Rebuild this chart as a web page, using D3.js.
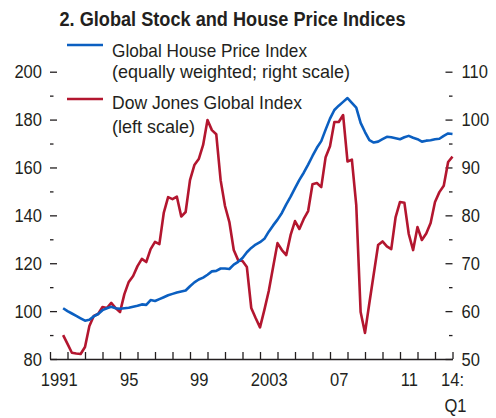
<!DOCTYPE html>
<html>
<head>
<meta charset="utf-8">
<script src="https://cdn.jsdelivr.net/npm/d3@7"></script>
<style>
  body { margin: 0; background: #fff; }
  svg { display: block; font-family: "Liberation Sans", Arial, sans-serif; }
</style>
</head>
<body>
<svg id="chart"></svg>
<script>
// chart size
const width = 496;
const height = 418;

// quarterly data, 1991:Q4 to 2014:Q1
const startYear = 1991;
const startQuarter = 4;

// Dow Jones Global Index (left scale)
const dowJones = [
  90.0, 86.3, 82.6, 82.3, 82.1, 85.0, 93.8, 98.0, 98.8, 101.7,
  101.3, 103.4, 101.3, 99.6, 107.1, 112.2, 114.7, 118.8, 121.8, 120.5,
  125.9, 128.9, 128.0, 141.0, 147.6, 146.8, 147.8, 139.5, 141.4, 154.7,
  161.0, 163.5, 169.4, 179.8, 175.6, 173.9, 154.7, 143.9, 137.2, 125.5,
  121.3, 120.9, 118.4, 101.3, 97.1, 93.2, 100.5, 108.4, 118.4, 128.4,
  125.5, 123.4, 131.8, 137.6, 134.3, 138.5, 141.8, 153.0, 153.5, 151.8,
  164.3, 168.9, 179.0, 179.0, 181.9, 162.5, 163.3, 144.3, 99.6, 90.9,
  103.4, 115.5, 127.6, 129.1, 127.0, 125.9, 139.3, 145.6, 145.3, 132.2,
  125.5, 135.1, 129.7, 132.4, 136.8, 145.6, 149.7, 152.4, 162.3, 164.5
];

// Global House Price Index, equally weighted (right scale)
const housePrice = [
  60.6, 60.0, 59.5, 59.0, 58.5, 58.0, 58.2, 58.9, 59.4, 60.2,
  60.6, 60.9, 60.6, 60.5, 60.6, 60.7, 60.9, 61.1, 61.4, 61.3,
  62.3, 62.1, 62.5, 62.9, 63.3, 63.6, 63.9, 64.1, 64.3, 65.2,
  66.0, 66.6, 67.0, 67.6, 68.3, 68.4, 68.9, 68.9, 68.8, 69.7,
  70.3, 71.1, 72.3, 73.2, 73.9, 74.4, 75.1, 76.6, 77.9, 79.1,
  80.5, 82.3, 83.9, 85.7, 87.4, 88.9, 90.6, 92.4, 94.1, 95.5,
  97.9, 100.2, 102.0, 102.9, 103.7, 104.5, 103.5, 102.5, 99.3, 97.4,
  95.7, 95.2, 95.4, 95.9, 96.4, 96.3, 96.1, 95.9, 96.3, 96.6,
  96.2, 95.9, 95.4, 95.6, 95.7, 95.9, 96.0, 96.6, 97.1, 97.0
];

// ticks and labels
const leftTicks = [80, 100, 120, 140, 160, 180, 200];
const leftMinor = [90, 110, 130, 150, 170, 190];
const rightTicks = [50, 60, 70, 80, 90, 100, 110];
const rightMinor = [55, 65, 75, 85, 95, 105];
const labelYears = [1991, 1995, 1999, 2003, 2007, 2011];
const labelText = ["1991", "95", "99", "2003", "07", "11"];

const ink = "#231f20";
const blue = "#0b5fc1";
const red = "#b3162f";
const squeeze = 0.87;

// quarter positions on a continuous year axis
const dates = dowJones.map((d, i) => startYear + (startQuarter - 1 + i) / 4);

const svg = d3.select("#chart")
    .attr("width", width)
    .attr("height", height);

svg.append("rect").attr("width", width).attr("height", height).attr("fill", "#fff");

const x = d3.scaleLinear().domain([1991, 2014]).range([50, 452.5]);
const yLeft = d3.scaleLinear().domain([80, 200]).range([359, 71.7]);
const yRight = d3.scaleLinear().domain([50, 110]).range([359, 71.7]);

// make the tick text look condensed
function condense(sel) {
    sel.each(function () {
        const t = d3.select(this);
        const tx = +t.attr("x") || 0;
        const ty = +t.attr("y") || 0;
        t.attr("x", null).attr("y", null)
            .attr("transform", `translate(${tx},${ty}) scale(${squeeze},1)`);
    });
}

function styleAxis(g) {
    g.select(".domain").remove();
    g.selectAll("line").attr("stroke", ink).attr("stroke-width", 1.3);
    g.selectAll("text")
        .attr("fill", ink)
        .style("font-size", "19px")
        .style("font-family", "'Liberation Sans', Arial, sans-serif");
}

// left axis
svg.append("g")
    .attr("transform", "translate(50,0)")
    .call(d3.axisLeft(yLeft).tickValues(leftTicks).tickSize(-7).tickPadding(8))
    .call(styleAxis)
    .call(g => condense(g.selectAll("text")));

svg.append("g")
    .attr("transform", "translate(50,0)")
    .call(d3.axisLeft(yLeft).tickValues(leftMinor).tickSize(-3.5).tickFormat(""))
    .call(styleAxis);

// right axis
svg.append("g")
    .attr("transform", "translate(452.5,0)")
    .call(d3.axisRight(yRight).tickValues(rightTicks).tickSize(-7).tickPadding(9))
    .call(styleAxis)
    .call(g => condense(g.selectAll("text")));

svg.append("g")
    .attr("transform", "translate(452.5,0)")
    .call(d3.axisRight(yRight).tickValues(rightMinor).tickSize(-3.5).tickFormat(""))
    .call(styleAxis);

// bottom axis: year ticks pointing up
const xAxis = svg.append("g")
    .attr("transform", "translate(0,359)")
    .call(d3.axisBottom(x).tickValues(d3.range(1991, 2015)).tickSize(-7).tickSizeOuter(0).tickFormat(""));
xAxis.select(".domain").attr("stroke", ink).attr("stroke-width", 1.3);
xAxis.selectAll("line").attr("stroke", ink).attr("stroke-width", 1.3);

// year labels sit in the middle of each year
svg.append("g")
    .attr("transform", "translate(0,359)")
    .call(d3.axisBottom(x).tickValues(labelYears.map(d => d + 0.5)).tickSize(0).tickPadding(13)
        .tickFormat((d, i) => labelText[i]))
    .call(styleAxis)
    .call(g => condense(g.selectAll("text")));

const endLabel = svg.append("g").attr("fill", ink).style("font-size", "19px");
endLabel.append("text")
    .attr("transform", `translate(${x(2014)},386) scale(${squeeze},1)`)
    .attr("text-anchor", "middle")
    .text("14:");
endLabel.append("text")
    .attr("transform", `translate(${x(2014) + 3},411.5) scale(${squeeze},1)`)
    .attr("text-anchor", "middle")
    .text("Q1");

// lines
const houseLine = d3.line()
    .x((d, i) => x(dates[i]))
    .y(d => yRight(d));

const dowLine = d3.line()
    .x((d, i) => x(dates[i]))
    .y(d => yLeft(d));

svg.append("path")
    .datum(dowJones)
    .attr("d", dowLine)
    .attr("fill", "none")
    .attr("stroke", red)
    .attr("stroke-width", 2.6)
    .attr("stroke-linejoin", "round");

svg.append("path")
    .datum(housePrice)
    .attr("d", houseLine)
    .attr("fill", "none")
    .attr("stroke", blue)
    .attr("stroke-width", 2.6)
    .attr("stroke-linejoin", "round");

// title
svg.append("text")
    .attr("x", 59.5)
    .attr("y", 26)
    .attr("fill", ink)
    .attr("textLength", 346)
    .attr("lengthAdjust", "spacingAndGlyphs")
    .style("font-size", "20px")
    .style("font-weight", "bold")
    .text("2. Global Stock and House Price Indices");

// legend
const legend = svg.append("g").attr("fill", ink).style("font-size", "19px");

const legendItems = [
    { color: blue, y: 45, lines: [["Global House Price Index", 56.5, 195], ["(equally weighted; right scale)", 77.5, 238]] },
    { color: red, y: 99, lines: [["Dow Jones Global Index", 108.5, 190], ["(left scale)", 133, 83]] }
];

legendItems.forEach(item => {
    legend.append("line")
        .attr("x1", 67).attr("x2", 103)
        .attr("y1", item.y).attr("y2", item.y)
        .attr("stroke", item.color)
        .attr("stroke-width", 2.6);
    item.lines.forEach(l => {
        legend.append("text")
            .attr("x", 112)
            .attr("y", l[1])
            .attr("textLength", l[2])
            .attr("lengthAdjust", "spacingAndGlyphs")
            .text(l[0]);
    });
});
</script>
</body>
</html>
